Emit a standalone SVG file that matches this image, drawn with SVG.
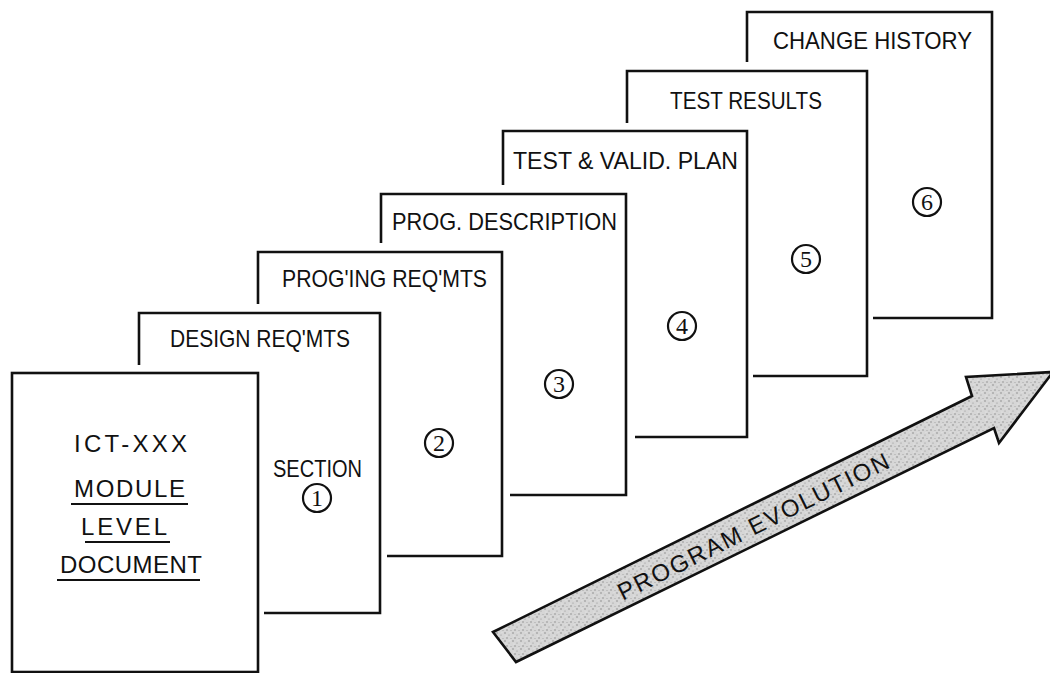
<svg xmlns="http://www.w3.org/2000/svg" width="1050" height="673" viewBox="0 0 1050 673">
  <defs>
    <pattern id="stipple" width="8" height="8" patternUnits="userSpaceOnUse">
      <rect width="8" height="8" fill="#d6d6d6"/>
      <circle cx="1" cy="1" r="0.7" fill="#7a7a7a"/>
      <circle cx="5" cy="3" r="0.6" fill="#909090"/>
      <circle cx="3" cy="6" r="0.7" fill="#808080"/>
      <circle cx="7" cy="6.5" r="0.5" fill="#9a9a9a"/>
      <circle cx="6" cy="0.5" r="0.4" fill="#f4f4f4"/>
      <circle cx="2" cy="4" r="0.5" fill="#f4f4f4"/>
    </pattern>
  </defs>
  <style>
    .page { fill: none; stroke: #111; stroke-width: 2.6; stroke-linejoin: miter; }
    .lbl { font-family: "Liberation Sans", Arial, sans-serif; font-size: 24px; fill: #111; }
    .num { font-family: "Liberation Serif", "Times New Roman", serif; font-size: 24px; fill: #111; text-anchor: middle; }
    .ring { fill: none; stroke: #111; stroke-width: 2.2; }
    .ul { stroke: #111; stroke-width: 2.2; }
  </style>
  <rect width="1050" height="673" fill="#fff"/>

  <g id="page6">
    <path class="page" d="M747,62 V12 H992 V318 H873"/>
    <text class="lbl" x="773" y="49" textLength="199" lengthAdjust="spacingAndGlyphs">CHANGE HISTORY</text>
    <circle class="ring" cx="927" cy="202" r="14"/>
    <text class="num" x="927" y="210">6</text>
  </g>
  <g id="page5">
    <path class="page" d="M627,123 V71 H867 V376 H753"/>
    <text class="lbl" x="670" y="109" textLength="152" lengthAdjust="spacingAndGlyphs">TEST RESULTS</text>
    <circle class="ring" cx="806" cy="259" r="14"/>
    <text class="num" x="806" y="267">5</text>
  </g>
  <g id="page4">
    <path class="page" d="M503,185 V131 H747 V437 H635"/>
    <text class="lbl" x="513" y="169" textLength="225" lengthAdjust="spacingAndGlyphs">TEST &amp; VALID. PLAN</text>
    <circle class="ring" cx="682" cy="326" r="14"/>
    <text class="num" x="682" y="334">4</text>
  </g>
  <g id="page3">
    <path class="page" d="M381,243 V194 H626 V495 H510"/>
    <text class="lbl" x="392" y="230" textLength="225" lengthAdjust="spacingAndGlyphs">PROG. DESCRIPTION</text>
    <circle class="ring" cx="559" cy="384" r="14"/>
    <text class="num" x="559" y="392">3</text>
  </g>
  <g id="page2">
    <path class="page" d="M258,304 V252 H502 V556 H387"/>
    <text class="lbl" x="282" y="287" textLength="205" lengthAdjust="spacingAndGlyphs">PROG'ING REQ'MTS</text>
    <circle class="ring" cx="439" cy="443" r="14"/>
    <text class="num" x="439" y="451">2</text>
  </g>
  <g id="page1">
    <path class="page" d="M139,365 V313 H380 V613 H264"/>
    <text class="lbl" x="170" y="347" textLength="180" lengthAdjust="spacingAndGlyphs">DESIGN REQ'MTS</text>
    <text class="lbl" x="273" y="477" textLength="89" lengthAdjust="spacingAndGlyphs">SECTION</text>
    <circle class="ring" cx="317" cy="498" r="14"/>
    <text class="num" x="317" y="506">1</text>
  </g>
  <g id="page0">
    <rect class="page" x="12" y="373" width="246" height="299"/>
    <text class="lbl" x="74" y="452" textLength="113" lengthAdjust="spacing">ICT-XXX</text>
    <text class="lbl" x="74" y="497" textLength="111" lengthAdjust="spacing">MODULE</text>
    <line class="ul" x1="71" y1="504" x2="188" y2="504"/>
    <text class="lbl" x="81" y="535" textLength="86" lengthAdjust="spacing">LEVEL</text>
    <line class="ul" x1="85" y1="542" x2="170" y2="542"/>
    <text class="lbl" x="60" y="573" textLength="142" lengthAdjust="spacing">DOCUMENT</text>
    <line class="ul" x1="57" y1="580" x2="200" y2="580"/>
  </g>

  <g id="connectors">
    <g id="evolution-arrow">
      <polygon points="493,632 972,396 966,377 1053,372 999,443 994,428 516,662" fill="url(#stipple)" stroke="#111" stroke-width="2.6" stroke-linejoin="miter"/>
      <text class="lbl" x="0" y="0" text-anchor="middle" font-size="22" textLength="300" lengthAdjust="spacing" transform="translate(757,534) rotate(-26.5)">PROGRAM EVOLUTION</text>
    </g>
  </g>
</svg>
